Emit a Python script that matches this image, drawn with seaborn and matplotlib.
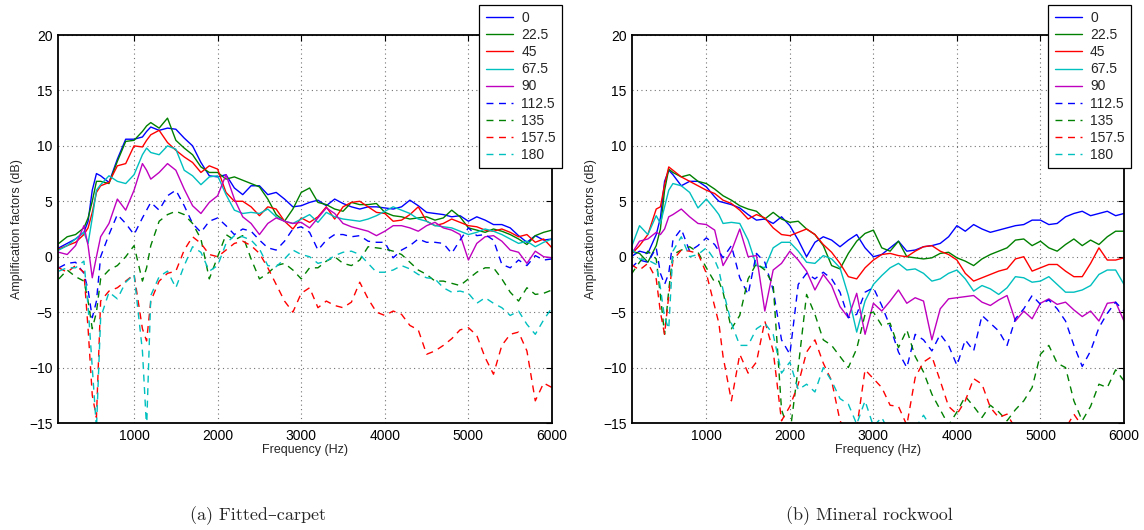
import matplotlib
matplotlib.use("Agg")
import matplotlib.pyplot as plt
import pandas as pd
import seaborn as sns

# Frequency grid (Hz); a few extra points around the sharp notches
FREQ = ([100, 200, 300, 400, 450, 500, 550, 600]
        + list(range(700, 1101, 100)) + [1150] + list(range(1200, 6001, 100)))

ANGLES = ["0", "22.5", "45", "67.5", "90", "112.5", "135", "157.5", "180"]
COLORS = ["#0000ff", "#008000", "#ff0000", "#00bfbf", "#bf00bf",
          "#0000ff", "#008000", "#ff0000", "#00bfbf"]
SOLID = ["0", "22.5", "45", "67.5", "90"]

# (a) Fitted-carpet amplification factors (dB)
carpet_0 = [0.8, 1.2, 1.6, 2.2, 3.2, 6.0, 7.5, 7.3, 6.7, 8.8, 10.6, 10.6, 10.8, 11.3, 11.7,
            11.4, 11.6, 11.5, 10.7, 10.0, 8.5, 7.3, 7.2, 7.4, 6.2,
            5.6, 6.4, 6.4, 5.6, 5.8, 5.2, 4.5, 4.6, 4.9, 5.1,
            4.6, 5.2, 4.8, 4.5, 4.3, 4.5, 4.5, 4.4, 4.3, 4.5,
            5.1, 4.6, 4.0, 3.9, 3.8, 3.6, 3.7, 3.2, 3.6, 3.3,
            2.9, 2.9, 2.6, 1.9, 1.3, 1.9, 1.5, 1.6]
carpet_22 = [1.2, 1.8, 2.0, 2.6, 3.5, 5.0, 6.8, 6.8, 6.6, 8.6, 10.4, 10.5, 11.3, 11.8, 12.1,
             11.6, 12.5, 10.5, 9.8, 9.2, 8.1, 7.6, 7.6, 7.0, 7.2,
             6.9, 6.6, 6.3, 5.2, 3.8, 3.2, 4.3, 5.8, 6.2, 4.9,
             4.7, 4.3, 4.1, 4.9, 4.7, 4.7, 4.8, 4.0, 3.7, 3.6,
             3.4, 3.5, 3.6, 3.3, 3.5, 4.2, 3.6, 2.6, 2.4, 2.2,
             2.5, 2.3, 2.0, 1.6, 1.1, 1.9, 2.2, 2.4]
carpet_45 = [0.7, 1.0, 1.3, 2.0, 2.6, 4.0, 5.8, 6.4, 6.7, 8.2, 8.4, 10.0, 9.9, 10.5, 11.0,
             11.4, 10.3, 9.6, 9.0, 8.5, 7.6, 8.2, 7.9, 5.8, 5.0,
             5.0, 4.5, 3.7, 4.5, 4.3, 3.2, 2.5, 3.5, 3.1, 3.6,
             4.5, 3.4, 4.5, 4.9, 5.0, 4.5, 4.0, 3.9, 3.2, 3.3,
             3.8, 4.5, 3.2, 2.8, 3.0, 3.4, 3.1, 2.8, 2.7, 2.4,
             2.3, 2.5, 2.2, 1.8, 2.0, 1.3, 1.6, 0.8]
carpet_67 = [0.6, 1.0, 1.6, 2.2, 1.2, 3.5, 6.0, 6.5, 7.3, 6.8, 6.6, 7.4, 9.2, 9.8, 9.4,
             9.2, 10.0, 9.7, 7.8, 7.3, 6.5, 7.2, 7.3, 5.6, 4.2,
             3.9, 4.0, 3.9, 4.3, 3.6, 3.2, 3.0, 3.4, 3.8, 3.1,
             4.0, 3.6, 3.4, 3.3, 3.2, 3.4, 3.7, 4.1, 4.5, 4.2,
             3.9, 3.4, 3.2, 2.8, 2.7, 2.6, 2.3, 2.0, 2.2, 2.5,
             2.3, 2.0, 1.6, 1.2, 1.4, 0.9, 1.3, 1.6]
carpet_90 = [0.4, 0.2, 1.0, 2.8, 1.0, -1.9, 0.0, 1.8, 3.0, 5.2, 4.2, 6.0, 8.4, 7.8, 7.0,
             7.6, 8.4, 7.8, 6.1, 4.6, 3.9, 4.9, 5.5, 7.4, 5.2,
             3.6, 3.0, 2.0, 3.0, 3.5, 3.2, 3.0, 3.1, 2.6, 3.5,
             4.4, 3.9, 3.0, 2.7, 2.5, 2.3, 1.9, 2.3, 2.8, 2.8,
             2.6, 2.3, 2.8, 3.1, 2.6, 2.4, 2.0, -0.3, 1.2, 1.8,
             1.9, 1.4, 0.6, 0.4, -0.6, 0.5, 0.0, -0.1]
carpet_112 = [-1.0, -0.6, -0.5, -1.5, -3.0, -5.5, -4.0, 0.0, 2.0, 3.8, 3.0, 2.0, 3.5, 4.2, 4.9,
              4.2, 5.5, 6.0, 4.6, 3.0, 2.2, 3.2, 3.5, 2.8, 2.0,
              2.5, 2.3, 1.5, 0.8, 0.6, 1.4, 2.5, 2.7, 2.2, 0.6,
              1.5, 2.0, 2.0, 1.8, 1.9, 1.4, 1.3, 1.3, -0.1, 0.6,
              1.0, 1.6, 1.3, 1.3, 1.2, 0.3, 1.5, 2.6, 1.9, 2.0,
              1.5, -0.7, -1.0, -0.3, -0.8, 0.1, -0.3, -0.2]
carpet_135 = [-2.0, -1.2, -1.8, -2.2, -4.0, -6.5, -5.0, -2.0, -1.2, -0.8, 0.0, 1.0, -2.2, -1.0, 1.0,
              3.2, 3.8, 4.1, 3.8, 3.0, 1.6, -2.0, 0.0, 2.0, 1.5,
              1.9, -0.2, -2.0, -1.5, -0.8, -0.6, -1.2, -2.0, -1.0, -1.0,
              -0.4, 0.0, -0.6, -0.8, -0.3, 0.9, 0.8, 0.7, 0.5, 0.2,
              -0.5, -1.2, -1.6, -2.2, -2.2, -2.4, -2.6, -2.0, -1.4, -1.0,
              -1.0, -2.0, -3.2, -4.0, -2.8, -3.4, -3.3, -3.0]
carpet_157 = [-1.0, -1.4, -0.8, -1.4, -6.5, -12.5, -14.5, -4.0, -3.1, -2.8, -2.2, -1.6, -6.5, -7.6, -4.0,
              -2.2, -1.5, -1.3, 0.6, 1.8, 1.2, 0.2, 0.0, 0.6, 1.2,
              1.4, 1.0, 0.3, -1.0, -2.5, -4.0, -5.0, -3.3, -2.8, -4.6,
              -4.0, -4.4, -4.6, -4.1, -2.3, -3.8, -5.0, -5.3, -4.9, -5.2,
              -6.2, -6.6, -8.8, -8.5, -8.0, -7.4, -6.6, -6.4, -7.1, -9.1,
              -10.6, -8.0, -7.0, -6.8, -8.5, -13.0, -11.4, -11.8]
carpet_180 = [-1.3, -1.0, -1.0, -0.4, -4.5, -10.0, -15.5, -5.5, -3.2, -3.8, -2.3, -1.6, -8.5, -15.5, -3.5,
              -1.8, -1.3, -2.8, -0.8, 0.9, 0.4, -1.3, -0.8, 1.2, 1.9,
              1.8, 1.5, 0.7, -0.8, -0.9, -0.2, 0.6, 0.2, 0.0, -0.6,
              -0.4, 0.1, 0.4, 0.5, 0.2, -0.6, -1.4, -1.4, -1.2, -0.8,
              -1.1, -1.6, -1.9, -2.0, -2.8, -3.2, -3.1, -3.3, -4.2, -3.7,
              -4.2, -4.6, -5.3, -4.9, -6.1, -7.0, -5.7, -4.6]

# (b) Mineral rockwool amplification factors (dB)
rock_0 = [0.0, 0.5, 0.3, 2.0, 3.5, 6.8, 7.8, 7.4, 6.4, 6.8, 6.8, 6.3, 5.4, 5.0, 4.9,
          4.7, 4.4, 3.8, 3.3, 3.4, 3.0, 3.6, 2.8, 1.5, 0.0,
          1.3, 1.8, 1.5, 0.9, 1.5, 2.0, 0.8, 0.0, 0.2, 0.8,
          1.4, 0.5, 0.6, 0.9, 1.0, 1.2, 1.8, 2.8, 2.3, 2.9,
          2.5, 2.2, 2.4, 2.6, 2.8, 2.9, 3.3, 3.3, 2.9, 3.0,
          3.6, 3.9, 4.1, 3.7, 3.9, 4.1, 3.7, 3.9]
rock_22 = [0.5, 0.3, -0.5, 1.0, 2.5, 6.0, 7.9, 7.6, 7.2, 7.4, 6.8, 6.6, 6.1, 5.8, 5.5,
           5.1, 4.6, 4.3, 4.1, 3.4, 4.0, 3.4, 3.1, 3.2, 2.5,
           2.0, 1.0, -0.8, -1.1, 0.3, 1.4, 2.1, 2.4, 0.8, 0.5,
           1.4, 0.0, -0.1, -0.2, -0.1, 0.3, 0.4, -0.1, -0.4, -0.8,
           -0.2, 0.2, 0.5, 0.8, 1.5, 1.6, 1.0, 1.4, 0.8, 0.5,
           1.1, 1.6, 1.0, 1.5, 1.1, 1.8, 2.3, 2.3]
rock_45 = [0.2, 1.0, 2.0, 4.3, 4.5, 6.5, 8.1, 7.8, 7.2, 6.8, 6.4, 6.0, 5.7, 5.4, 5.1,
           4.8, 4.2, 3.4, 3.8, 3.5, 2.6, 2.0, 1.9, 2.2, 2.5,
           2.0, 1.1, 0.4, -0.6, -1.8, -2.0, -1.0, -0.3, 0.2, 0.3,
           0.1, 0.0, 0.5, 0.9, 1.0, 0.5, 0.2, -0.3, -1.5, -2.2,
           -1.9, -1.6, -1.3, -1.1, -0.2, 0.0, -1.3, -1.0, -0.7, -0.7,
           -1.3, -1.8, -1.8, -0.6, 0.8, -0.3, -0.3, -0.1]
rock_67 = [0.8, 2.8, 2.0, 3.7, 3.0, 4.5, 6.0, 6.6, 6.4, 5.8, 4.4, 5.2, 4.3, 3.8, 3.0,
           3.1, 3.0, 1.5, -0.8, -1.0, 0.8, 1.3, 1.3, 0.5, -0.5,
           -0.6, 0.1, -0.2, -1.0, -3.5, -6.8, -4.0, -2.5, -1.7, -1.0,
           -0.6, -1.2, -1.1, -1.5, -2.2, -2.0, -1.5, -1.2, -2.0, -3.1,
           -2.6, -2.9, -3.4, -2.8, -1.8, -1.9, -2.3, -2.2, -1.8, -2.5,
           -3.2, -3.2, -3.0, -2.6, -1.6, -1.2, -1.2, -2.5]
rock_90 = [0.2, 1.4, 1.6, 2.2, 2.0, 2.5, 3.6, 3.8, 4.3, 3.6, 3.0, 2.9, 2.4, 0.8, -0.8,
           0.5, 2.5, 0.0, 0.1, -4.9, -1.2, -0.6, 0.5, -0.3, -1.3,
           -3.0, -1.6, -2.6, -4.5, -5.5, -3.3, -7.0, -4.2, -4.9, -4.0,
           -3.0, -4.2, -3.7, -4.0, -7.5, -4.7, -3.8, -3.7, -3.6, -3.5,
           -4.1, -4.4, -3.9, -3.5, -5.8, -4.9, -5.6, -4.2, -3.8, -4.3,
           -4.1, -4.8, -5.4, -4.9, -5.8, -4.2, -4.1, -5.8]
rock_112 = [-1.0, -0.3, -0.5, 0.8, -1.5, -2.5, -1.5, 1.5, 2.5, 0.5, 1.0, 1.7, 1.1, 0.5, -0.1,
            1.0, -1.9, -3.4, 0.3, -0.5, -3.0, -7.5, -8.8, -2.5, -1.5,
            -2.0, -1.4, -2.0, -3.2, -5.5, -5.2, -3.2, -2.8, -4.4, -6.3,
            -8.6, -10.0, -7.0, -7.5, -8.5, -7.0, -8.0, -9.8, -7.5, -8.5,
            -5.3, -6.0, -6.7, -8.0, -5.6, -4.7, -3.5, -4.3, -3.9, -4.7,
            -5.8, -8.0, -9.9, -8.5, -6.4, -5.1, -4.1, -4.9]
rock_135 = [-1.6, -0.5, 0.5, -0.2, -3.5, -7.0, -3.0, 0.2, 0.6, 0.9, 0.4, -1.0, -2.3, -2.2, -3.2,
            -6.5, -5.3, -2.0, -0.6, -1.2, -2.5, -13.8, -16.0, -10.0, -3.4,
            -5.2, -7.5, -8.0, -9.0, -10.0, -8.3, -5.2, -5.0, -6.2, -6.0,
            -8.2, -6.6, -9.0, -10.4, -12.4, -13.8, -15.2, -14.0, -12.6, -13.5,
            -14.5, -13.4, -14.0, -14.8, -13.8, -13.0, -11.8, -8.8, -8.0, -9.6,
            -10.0, -13.0, -14.8, -13.5, -11.5, -11.8, -10.2, -11.2]
rock_157 = [-0.7, -1.2, -0.6, -2.0, -5.0, -7.0, -3.5, -0.3, 0.6, 0.5, 0.3, -1.5, -4.5, -6.0, -9.0,
            -13.0, -8.8, -10.5, -9.5, -5.8, -8.5, -14.8, -13.5, -11.5, -8.6,
            -7.5, -9.6, -11.2, -14.8, -16.0, -15.5, -10.2, -11.0, -11.8, -13.4,
            -13.5, -15.2, -10.9, -9.5, -9.0, -11.2, -13.5, -14.2, -13.0, -11.0,
            -11.5, -13.6, -14.5, -14.2, -15.5, -16.0, -17.0, -16.5, -15.2, -16.0,
            -15.5, -14.2, -15.3, -16.5, -17.0, -17.0, -17.0, -17.0]
rock_180 = [0.8, -0.2, -0.3, -0.7, -2.8, -5.5, -6.5, 0.5, 1.8, 0.0, 0.2, 0.8, -0.3, -1.2, -3.0,
            -6.0, -8.0, -8.0, -6.5, -6.0, -7.0, -10.5, -9.5, -12.0, -11.5,
            -12.2, -10.0, -11.2, -12.8, -13.3, -15.1, -13.0, -15.3, -14.5, -16.0,
            -16.5, -16.5, -15.5, -14.3, -15.5, -16.5, -17.0, -17.0, -17.0, -17.0,
            -17.0, -17.0, -17.0, -17.0, -17.0, -17.0, -17.0, -17.0, -17.0, -17.0,
            -17.0, -17.0, -17.0, -17.0, -17.0, -17.0, -17.0, -17.0]

CARPET = [carpet_0, carpet_22, carpet_45, carpet_67, carpet_90,
          carpet_112, carpet_135, carpet_157, carpet_180]
ROCKWOOL = [rock_0, rock_22, rock_45, rock_67, rock_90,
            rock_112, rock_135, rock_157, rock_180]

X_TICKS = [1000, 2000, 3000, 4000, 5000, 6000]
Y_TICKS = [-15, -10, -5, 0, 5, 10, 15, 20]

sns.set_theme(style="white")
plt.rcParams["font.family"] = ["Liberation Sans", "DejaVu Sans"]

PALETTE = dict(zip(ANGLES, COLORS))
DASHES = {a: ("" if a in SOLID else (5, 4)) for a in ANGLES}

W, H = 1144, 530
fig = plt.figure(figsize=(W / 100, H / 100), dpi=100)


def panel(left_px, right_px, series, xmin, legend_right_px, caption, caption_x):
    ax = fig.add_axes([left_px / W, 1 - 423 / H, (right_px - left_px) / W, (423 - 35) / H])
    frames = [pd.DataFrame({"freq": FREQ, "gain": vals, "angle": name})
              for name, vals in zip(ANGLES, series)]
    df = pd.concat(frames, ignore_index=True)
    sns.lineplot(data=df, x="freq", y="gain", hue="angle", style="angle",
                 hue_order=ANGLES, style_order=ANGLES, palette=PALETTE,
                 dashes=DASHES, estimator=None, sort=False, lw=1.0, ax=ax)
    ax.set_xlim(xmin, 6000)
    ax.set_ylim(-15, 20)
    ax.set_xticks(X_TICKS)
    ax.set_yticks(Y_TICKS)
    ax.grid(True, linestyle=(0, (1, 3)), color="0.45", lw=0.8)
    ax.tick_params(direction="in", top=True, right=True, length=4, width=0.8,
                   labelsize=10, colors="black", pad=4)
    for s in ax.spines.values():
        s.set_color("black")
        s.set_linewidth(1.3)
    ax.set_xlabel("Frequency (Hz)", fontsize=9, labelpad=1)
    ax.set_ylabel("Amplification factors (dB)", fontsize=9, labelpad=4)

    handles, labels = ax.get_legend_handles_labels()
    ax.get_legend().remove()
    leg = fig.legend(handles, labels, loc="upper right",
                     bbox_to_anchor=(legend_right_px / W, 1 - 5 / H),
                     fontsize=10, frameon=True, fancybox=False, framealpha=1,
                     edgecolor="black", handlelength=1.95, handletextpad=0.6,
                     labelspacing=0.22, borderpad=0.45, borderaxespad=0)
    leg.get_frame().set_linewidth(0.9)

    fig.text(caption_x / W, 1 - 516 / H, caption, ha="center", va="center",
             fontsize=13, family=["cmr10", "DejaVu Serif"])
    return ax


panel(58, 552, CARPET, 90, 562, "(a) Fitted\u2013carpet", 258)
panel(632, 1124, ROCKWOOL, 110, 1131, "(b) Mineral rockwool", 869)

fig.savefig("out.png", dpi=100)
